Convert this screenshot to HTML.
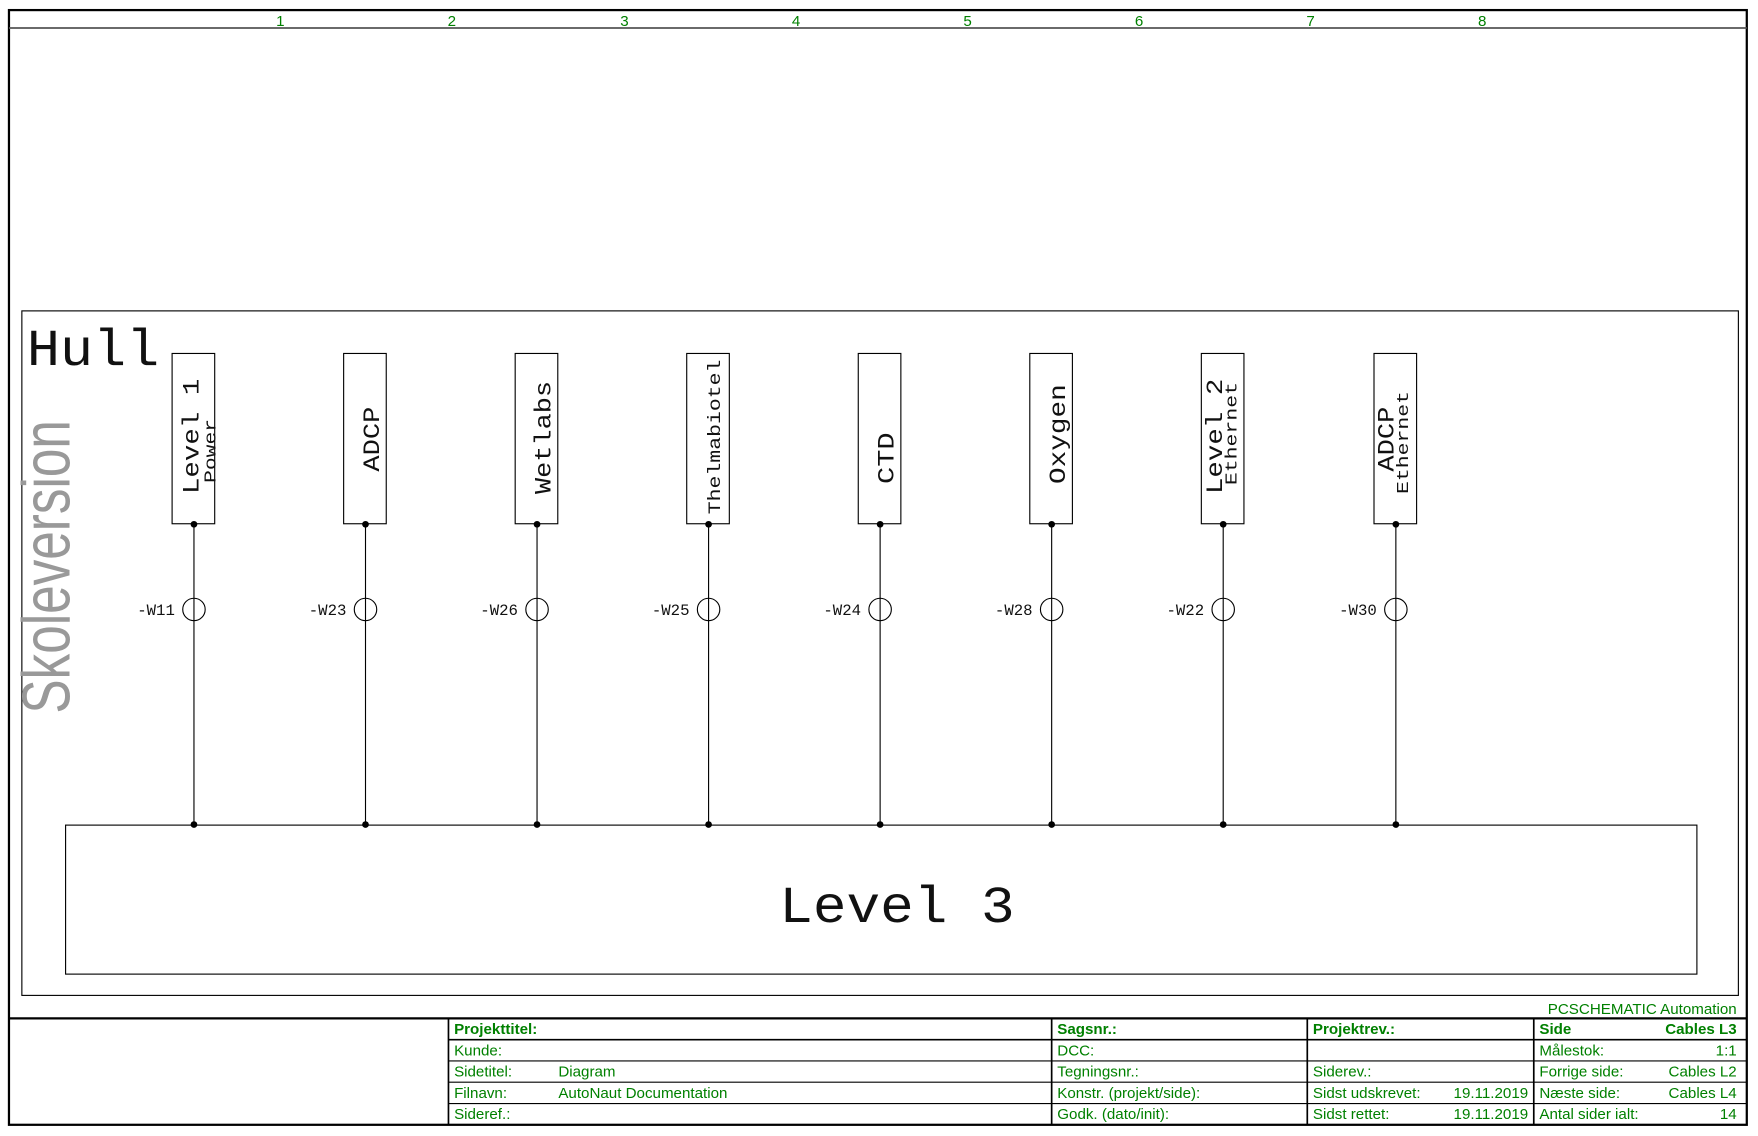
<!DOCTYPE html>
<html><head><meta charset="utf-8"><style>
html,body{margin:0;padding:0;background:#fff;}
svg{display:block;}
.g{fill:#008000;font-family:"Liberation Sans",sans-serif;font-size:13.5px;}
.gb{fill:#008000;font-family:"Liberation Sans",sans-serif;font-size:13.5px;font-weight:bold;}
.m{font-family:"Liberation Mono",monospace;fill:#111;}
</style></head><body>
<svg width="1758" height="1136" viewBox="0 0 1568 1014" preserveAspectRatio="none" xmlns="http://www.w3.org/2000/svg">
<rect x="0" y="0" width="1568" height="1014" fill="#fff"/>
<rect x="8" y="9" width="1550" height="995" fill="none" stroke="#000" stroke-width="2"/>
<line x1="8" y1="25" x2="1558" y2="25" stroke="#555" stroke-width="1.5"/>
<g class="g" text-anchor="middle" font-size="13">
<text x="250" y="23">1</text><text x="403" y="23">2</text><text x="557" y="23">3</text><text x="710" y="23">4</text>
<text x="863" y="23">5</text><text x="1016" y="23">6</text><text x="1169" y="23">7</text><text x="1322" y="23">8</text>
</g>
<rect x="19.5" y="277.5" width="1531" height="611" fill="none" stroke="#000" stroke-width="1"/>
<text class="m" x="24" y="326" font-size="46" textLength="118" lengthAdjust="spacingAndGlyphs">Hull</text>
<text x="0" y="0" transform="translate(62,637) rotate(-90)" font-family="Liberation Sans,sans-serif" font-size="60" fill="#999" textLength="262" lengthAdjust="spacingAndGlyphs">Skoleversion</text>

<g stroke="#000" stroke-width="1" fill="none">
<rect x="153.5" y="315.5" width="38" height="152"/>
<rect x="306.5" y="315.5" width="38" height="152"/>
<rect x="459.5" y="315.5" width="38" height="152"/>
<rect x="612.5" y="315.5" width="38" height="152"/>
<rect x="765.5" y="315.5" width="38" height="152"/>
<rect x="918.5" y="315.5" width="38" height="152"/>
<rect x="1071.5" y="315.5" width="38" height="152"/>
<rect x="1225.5" y="315.5" width="38" height="152"/>
<rect x="58.5" y="736.5" width="1455" height="133"/>
</g>
<g stroke="#000" stroke-width="1" fill="#fff">
<line x1="173" y1="468" x2="173" y2="736"/><circle cx="173" cy="544" r="10"/><line x1="173" y1="534" x2="173" y2="554"/>
<line x1="326" y1="468" x2="326" y2="736"/><circle cx="326" cy="544" r="10"/><line x1="326" y1="534" x2="326" y2="554"/>
<line x1="479" y1="468" x2="479" y2="736"/><circle cx="479" cy="544" r="10"/><line x1="479" y1="534" x2="479" y2="554"/>
<line x1="632" y1="468" x2="632" y2="736"/><circle cx="632" cy="544" r="10"/><line x1="632" y1="534" x2="632" y2="554"/>
<line x1="785" y1="468" x2="785" y2="736"/><circle cx="785" cy="544" r="10"/><line x1="785" y1="534" x2="785" y2="554"/>
<line x1="938" y1="468" x2="938" y2="736"/><circle cx="938" cy="544" r="10"/><line x1="938" y1="534" x2="938" y2="554"/>
<line x1="1091" y1="468" x2="1091" y2="736"/><circle cx="1091" cy="544" r="10"/><line x1="1091" y1="534" x2="1091" y2="554"/>
<line x1="1245" y1="468" x2="1245" y2="736"/><circle cx="1245" cy="544" r="10"/><line x1="1245" y1="534" x2="1245" y2="554"/>
</g>
<g fill="#000">
<circle cx="173" cy="468" r="3"/><circle cx="326" cy="468" r="3"/><circle cx="479" cy="468" r="3"/><circle cx="632" cy="468" r="3"/>
<circle cx="785" cy="468" r="3"/><circle cx="938" cy="468" r="3"/><circle cx="1091" cy="468" r="3"/><circle cx="1245" cy="468" r="3"/>
<circle cx="173" cy="736" r="3"/><circle cx="326" cy="736" r="3"/><circle cx="479" cy="736" r="3"/><circle cx="632" cy="736" r="3"/>
<circle cx="785" cy="736" r="3"/><circle cx="938" cy="736" r="3"/><circle cx="1091" cy="736" r="3"/><circle cx="1245" cy="736" r="3"/>
</g>
<g class="m" font-size="14" text-anchor="end">
<text x="156" y="549">-W11</text><text x="309" y="549">-W23</text><text x="462" y="549">-W26</text><text x="615" y="549">-W25</text>
<text x="768" y="549">-W24</text><text x="921" y="549">-W28</text><text x="1074" y="549">-W22</text><text x="1228" y="549">-W30</text>
</g>
<g class="m" font-size="21">
<text transform="translate(177,441) rotate(-90)" textLength="103" lengthAdjust="spacingAndGlyphs">Level 1</text>
<text transform="translate(192,431) rotate(-90)" font-size="15" textLength="57" lengthAdjust="spacingAndGlyphs">Power</text>
<text transform="translate(338,421) rotate(-90)" textLength="58" lengthAdjust="spacingAndGlyphs">ADCP</text>
<text transform="translate(491,441) rotate(-90)" textLength="101" lengthAdjust="spacingAndGlyphs">Wetlabs</text>
<text transform="translate(642,459) rotate(-90)" font-size="16" textLength="138" lengthAdjust="spacingAndGlyphs">Thelmabiotel</text>
<text transform="translate(797,432) rotate(-90)" textLength="46" lengthAdjust="spacingAndGlyphs">CTD</text>
<text transform="translate(950,432) rotate(-90)" textLength="89" lengthAdjust="spacingAndGlyphs">Oxygen</text>
<text transform="translate(1090,441) rotate(-90)" textLength="103" lengthAdjust="spacingAndGlyphs">Level 2</text>
<text transform="translate(1103,433) rotate(-90)" font-size="15" textLength="92" lengthAdjust="spacingAndGlyphs">Ethernet</text>
<text transform="translate(1243,421) rotate(-90)" textLength="58" lengthAdjust="spacingAndGlyphs">ADCP</text>
<text transform="translate(1256,441) rotate(-90)" font-size="15" textLength="92" lengthAdjust="spacingAndGlyphs">Ethernet</text>
</g>
<text class="m" x="800" y="823" font-size="46" text-anchor="middle" textLength="210" lengthAdjust="spacingAndGlyphs">Level 3</text>

<text class="g" x="1549" y="905" text-anchor="end">PCSCHEMATIC Automation</text>
<g stroke="#000" fill="none">
<line x1="8" y1="909" x2="1558" y2="909" stroke-width="2"/>
<line x1="400" y1="909" x2="400" y2="1004" stroke-width="1.5"/>
<line x1="938" y1="909" x2="938" y2="1004" stroke-width="1.5"/>
<line x1="1166" y1="909" x2="1166" y2="1004" stroke-width="1.5"/>
<line x1="1368" y1="909" x2="1368" y2="1004" stroke-width="1.5"/>
<line x1="400" y1="928" x2="1558" y2="928" stroke-width="1.5"/>
<line x1="400" y1="947" x2="1558" y2="947" stroke-width="1"/>
<line x1="400" y1="966" x2="1558" y2="966" stroke-width="1"/>
<line x1="400" y1="985" x2="1558" y2="985" stroke-width="1"/>
</g>
<g>
<text class="gb" x="405" y="923">Projekttitel:</text>
<text class="g" x="405" y="942">Kunde:</text>
<text class="g" x="405" y="961">Sidetitel:</text><text class="g" x="498" y="961">Diagram</text>
<text class="g" x="405" y="980">Filnavn:</text><text class="g" x="498" y="980">AutoNaut Documentation</text>
<text class="g" x="405" y="999">Sideref.:</text>
<text class="gb" x="943" y="923">Sagsnr.:</text>
<text class="g" x="943" y="942">DCC:</text>
<text class="g" x="943" y="961">Tegningsnr.:</text>
<text class="g" x="943" y="980">Konstr. (projekt/side):</text>
<text class="g" x="943" y="999">Godk. (dato/init):</text>
<text class="gb" x="1171" y="923">Projektrev.:</text>
<text class="g" x="1171" y="961">Siderev.:</text>
<text class="g" x="1171" y="980">Sidst udskrevet:</text><text class="g" x="1363" y="980" text-anchor="end">19.11.2019</text>
<text class="g" x="1171" y="999">Sidst rettet:</text><text class="g" x="1363" y="999" text-anchor="end">19.11.2019</text>
<text class="gb" x="1373" y="923">Side</text><text class="gb" x="1549" y="923" text-anchor="end">Cables L3</text>
<text class="g" x="1373" y="942">Målestok:</text><text class="g" x="1549" y="942" text-anchor="end">1:1</text>
<text class="g" x="1373" y="961">Forrige side:</text><text class="g" x="1549" y="961" text-anchor="end">Cables L2</text>
<text class="g" x="1373" y="980">Næste side:</text><text class="g" x="1549" y="980" text-anchor="end">Cables L4</text>
<text class="g" x="1373" y="999">Antal sider ialt:</text><text class="g" x="1549" y="999" text-anchor="end">14</text>
</g>
</svg>
</body></html>
